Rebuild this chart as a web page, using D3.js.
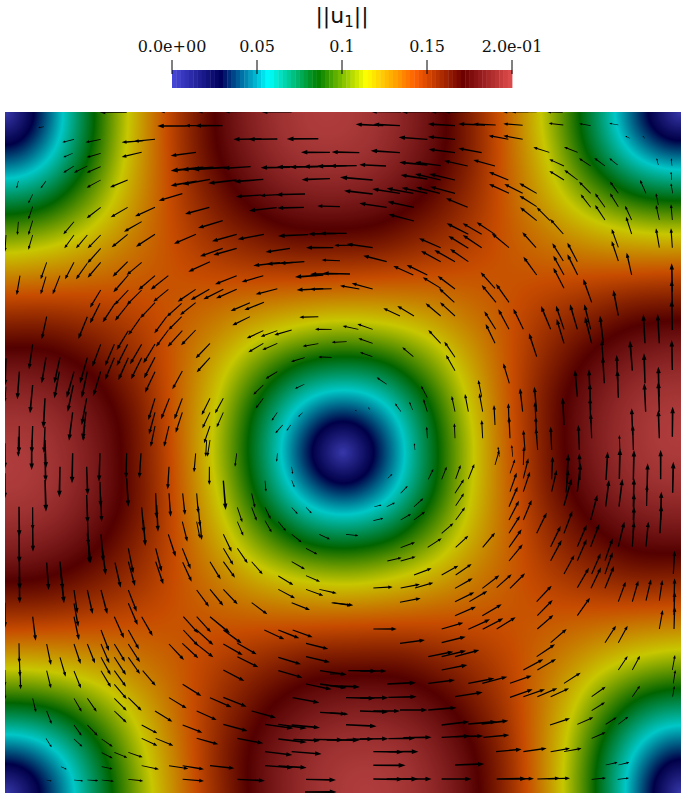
<!DOCTYPE html>
<html><head><meta charset="utf-8">
<script src="https://cdn.jsdelivr.net/npm/d3@7"></script>
<style>html,body{margin:0;padding:0;background:#fff}svg{display:block}</style>
</head><body><div id="chart"></div>
<script>
// Colour legend
const legendTitle = "||u";
const legendTitleSub = "1";
const legendTickValues = [0, 0.05, 0.1, 0.15, 0.2];
const legendTickLabels = ["0.0e+00", "0.05", "0.1", "0.15", "2.0e-01"];
const colorStops = [0, 0.0286, 0.057, 0.0858, 0.1142, 0.1428, 0.1714, 0.2];
const colorValues = ["#4747db", "#00005c", "#00ffff", "#008000", "#ffff00", "#ff6100", "#6b0000", "#e04d4d"];

// ||u1|| read on a 17 x 17 grid across the square
const fieldRows = [
[0,.039,.077,.111,.141,.166,.185,.196,.2,.196,.185,.166,.141,.111,.077,.039,0],
[.039,.054,.083,.114,.141,.165,.182,.193,.196,.193,.182,.165,.141,.114,.083,.054,.039],
[.077,.083,.1,.121,.141,.159,.173,.182,.185,.182,.173,.159,.141,.121,.1,.083,.077],
[.111,.114,.121,.131,.141,.151,.159,.165,.166,.165,.159,.151,.141,.131,.121,.114,.111],
[.141,.141,.141,.141,.141,.141,.141,.141,.141,.141,.141,.141,.141,.141,.141,.141,.141],
[.166,.165,.159,.151,.141,.131,.121,.114,.111,.114,.121,.131,.141,.151,.159,.165,.166],
[.185,.182,.173,.159,.141,.121,.1,.083,.077,.083,.1,.121,.141,.159,.173,.182,.185],
[.196,.193,.182,.165,.141,.114,.083,.054,.039,.054,.083,.114,.141,.165,.182,.193,.196],
[.2,.196,.185,.166,.141,.111,.077,.039,0,.039,.077,.111,.141,.166,.185,.196,.2],
[.196,.193,.182,.165,.141,.114,.083,.054,.039,.054,.083,.114,.141,.165,.182,.193,.196],
[.185,.182,.173,.159,.141,.121,.1,.083,.077,.083,.1,.121,.141,.159,.173,.182,.185],
[.166,.165,.159,.151,.141,.131,.121,.114,.111,.114,.121,.131,.141,.151,.159,.165,.166],
[.141,.141,.141,.141,.141,.141,.141,.141,.141,.141,.141,.141,.141,.141,.141,.141,.141],
[.111,.114,.121,.131,.141,.151,.159,.165,.166,.165,.159,.151,.141,.131,.121,.114,.111],
[.077,.083,.1,.121,.141,.159,.173,.182,.185,.182,.173,.159,.141,.121,.1,.083,.077],
[.039,.054,.083,.114,.141,.165,.182,.193,.196,.193,.182,.165,.141,.114,.083,.054,.039],
[0,.039,.077,.111,.141,.166,.185,.196,.2,.196,.185,.166,.141,.111,.077,.039,0]
];
// The pattern is swirled: how far the features sit from their grid place, as a
// fraction of the square, read at 5 x 5 stations (rows top to bottom).
const swirlX = [
[0,-.016,-.024,-.016,0],
[0,-.01,-.012,-.01,0],
[0,0,0,0,0],
[0,.014,.018,.014,0],
[0,.028,.037,.028,0]
];
const swirlY = [
[0,0,0,0,0],
[.016,.008,0,-.01,-.02],
[.022,.011,0,-.015,-.03],
[.016,.008,0,-.01,-.02],
[0,0,0,0,0]
];

// Glyphs as [tailX, tailY, tipX, tipY], read per quadrant of the square
const arrowsNW = [
[380,36,298,36],[550,34,478,34],[670,34,590,34],[755,34,670,34],[875,35,782,35],
[560,78,472,78],[620,77,555,77],[668,77,585,77],[785,117,700,118],[832,117,745,118],[955,116,860,117],
[990,157,903,157],[132,80,115,83],[222,118,187,127],[302,118,257,127],[430,122,365,127],[465,118,402,124],
[218,160,190,172],[302,160,260,172],[425,157,365,171],[222,198,190,218],[262,198,222,218],[302,200,260,218],
[588,157,512,167],[610,202,512,212],[640,202,545,209],[680,202,575,208],[752,200,670,205],
[870,202,782,203],[915,200,830,201],[955,200,870,201],[1000,198,910,200],[1040,197,950,199],
[55,243,50,265],[138,243,122,265],[302,240,260,263],[383,240,330,262],[590,243,512,257],[630,238,548,253],
[710,240,625,250],[790,238,702,245],[990,236,905,239],[547,281,476,302],[785,285,708,290],[850,283,780,287],[915,282,828,284],
[98,283,85,310],[98,320,85,358],[302,322,260,355],[383,322,332,352],[465,322,405,349],[628,322,555,342],
[830,323,747,332],[912,322,832,324],[1020,320,952,318],[55,365,52,405],[98,362,85,405],[222,365,190,403],
[425,365,372,395],[668,362,594,384],[302,405,263,445],[262,405,228,445],[222,405,193,445],[383,403,335,442],[465,403,408,440],
[588,403,522,431],[710,403,636,424],[792,403,713,418],[925,404,834,408],[1010,401,925,402],[1040,400,960,400],
[98,405,85,449],[18,405,15,455],[302,445,262,490],[668,445,600,469],[710,445,640,465],[870,445,797,456],[1000,443,918,443],[1060,436,1003,436],
[140,487,122,538],[222,487,195,538],[302,487,263,533],[262,490,228,538],[383,485,338,530],[425,487,380,525],[385,525,340,577],
[630,485,565,515],[840,488,760,497],[880,487,800,492],[913,485,840,490],[1020,482,965,480],
[60,527,50,585],[138,530,122,583],[180,527,158,583],[465,527,415,570],[505,527,452,569],[505,568,460,605],[465,608,420,655],[420,655,385,705],
[710,527,645,553],[790,527,725,546],[970,525,885,531],[1015,521,930,523],[1050,522,968,520],
[302,570,270,623],[385,570,343,615],[345,610,308,667],[425,570,380,615],[385,612,345,662],[300,610,270,670],
[587,568,533,605],[628,568,572,600],[670,568,610,598],[710,568,648,595],[832,566,767,583],[970,566,890,570],[995,566,930,568],
[587,608,540,645],[545,610,500,650],[500,650,463,700],[545,650,505,690],[505,690,468,740],[750,608,692,633],[792,607,733,630],[750,650,697,676],
[140,650,125,718],[262,650,235,717],[955,650,898,652],[587,690,543,736],[547,692,503,740],[790,692,740,715],[832,692,782,710],[875,690,823,705],
[995,688,945,688],[385,692,350,750],[465,732,430,790],[630,730,587,775],[832,730,787,750],[790,730,745,757],[955,731,908,739],[1040,725,995,727],
[98,733,87,808],[302,733,277,800],[343,733,315,798],[383,733,350,798],[425,733,390,793],[914,773,873,785],[995,772,955,771],
[630,773,590,817],[465,772,432,835],[425,773,393,838],[385,773,355,840],[343,773,315,840],[262,773,240,850],[180,772,163,850],[138,772,125,850],
[222,815,200,893],[262,815,245,893],[302,815,280,888],[58,815,52,898],[178,815,163,895],[18,775,15,857],[547,813,517,868],[465,815,435,878],
[832,815,797,836],[790,855,760,884],[913,853,885,866],[98,855,90,940],[220,855,203,935],[135,895,130,985],[18,860,15,905],
[260,895,245,975],[258,935,248,1020],[465,895,445,960],[508,895,483,958],[547,895,523,958],[630,895,605,945],[670,895,645,940],[790,895,767,925],
[832,937,815,962],[908,938,895,950],[465,937,447,1003],[670,937,650,982],[630,937,607,985],[547,937,527,998],[218,937,207,1022],
[58,978,57,1060],[98,978,95,1060],[135,980,132,1060],[465,978,452,1040],[507,978,492,1040],[630,978,612,1030],[848,975,826,1000],[872,975,860,992],
[630,1020,622,1070],[255,975,250,1022]
];
const arrowsNE = [
[183,35,90,34],[270,35,183,35],[355,35,270,35],[390,35,312,35],[590,35,510,34],[565,35,484,34],[668,37,622,36],
[130,77,47,73],[180,77,100,73],[345,77,264,72],[435,75,355,72],[467,75,400,72],[548,76,490,71],[670,75,626,70],[752,77,718,71],[835,75,808,70],
[262,118,176,112],[345,118,264,110],[505,118,446,107],[548,118,490,107],[870,115,856,108],[915,115,908,108],
[58,158,-25,156],[180,158,92,152],[345,158,266,148],[425,158,355,145],[628,157,580,142],[713,157,672,141],
[138,198,58,194],[50,197,-30,198],[262,195,178,187],[302,197,225,187],[383,198,312,182],[465,198,400,180],[672,198,628,178],[752,198,717,175],[795,198,763,174],[833,195,808,175],[955,195,950,175],[996,197,994,175],
[98,240,0,232],[262,237,182,225],[302,240,225,222],[345,240,268,222],[505,240,447,216],[672,240,628,213],[713,240,673,210],[752,280,717,245],[995,240,993,215],
[98,282,12,272],[180,280,97,267],[220,280,140,265],[262,280,185,263],[300,280,228,262],[345,280,270,260],[507,280,447,252],[548,280,493,252],[590,280,538,250],[835,280,810,245],[918,280,900,240],[998,280,993,250],[955,315,948,280],
[140,322,58,310],[222,322,143,305],[383,322,318,295],[590,320,538,287],[630,362,590,322],[835,320,810,280],[795,322,765,280],[752,322,722,283],
[590,362,540,322],[875,360,855,317],[958,360,948,315],[997,360,993,313],[222,363,145,343],[795,360,765,315],[670,402,630,357],[875,402,858,350],
[385,403,320,370],[425,403,368,370],[465,403,410,367],[507,443,455,400],[958,443,948,385],[997,443,993,385],[835,442,815,387],[588,443,547,397],
[302,443,237,415],[385,445,325,408],[425,443,368,405],[98,443,20,432],[140,485,70,467],[302,485,243,453],[345,485,283,450],[385,485,330,447],
[670,483,637,430],[712,485,682,428],[835,483,815,423],[875,525,860,458],[590,525,550,470],[220,525,160,498],[262,525,200,495],[465,565,422,517],
[672,525,640,467],[713,525,682,463],[672,565,640,503],[303,565,248,532],[345,567,293,528],[997,575,995,490],[997,620,995,540],
[98,567,35,550],[58,567,0,557],[343,607,297,565],[468,607,425,555],[507,607,468,552],[755,607,730,537],[835,647,820,570],
[222,648,172,618],[180,648,130,625],[302,648,257,610],[345,648,300,607],[632,688,603,618],[672,688,648,617],[712,688,690,613],[752,688,733,613],[755,730,735,650],
[467,688,433,634],[507,688,475,628],[550,688,520,626],[997,690,995,600],[672,730,650,657],[915,730,910,643],[958,730,953,642],
[98,688,52,672],[55,688,8,678],[465,730,437,672],[302,730,265,690],[345,772,313,725],[220,770,187,742],[590,770,567,700],
[790,730,780,647],[793,850,788,770],[790,790,785,720],[997,810,995,720],[877,812,870,722],[98,730,55,715],[97,770,60,757],[345,812,318,765],
[835,893,832,810],[833,845,830,765],[917,935,913,850],[915,850,912,760],[508,850,490,790],[957,890,955,800],[958,935,955,845],[958,1015,955,930],
[140,853,110,832],[262,893,243,857],[262,935,250,897],[712,890,705,810],[752,930,749,850],[750,890,747,808],[755,1015,752,940],[752,970,750,893],[425,890,415,840],[428,935,418,880],
[548,935,540,865],[590,935,583,860],[590,1015,587,950],[588,970,585,905],[593,1050,588,985],[183,935,165,910],[218,930,208,905],[345,935,335,888],[385,935,375,882],
[465,975,462,915],[510,1015,507,950],[507,970,505,910],[672,975,668,893],[997,1010,998,920],[880,1050,878,975],[878,1005,875,925],[262,1015,260,980],[345,1015,343,970],[428,1015,425,960],
[635,1050,632,980],[555,1050,550,990],[718,1050,715,975],[840,1050,838,1005],[478,1070,474,1040],[518,1070,515,1035],[225,1050,223,1030],[90,930,85,922],[50,933,45,930]
];
const arrowsSW = [
[15,70,15,145],[15,-20,15,55],[55,-40,55,20],[95,-30,95,60],[135,-30,138,55],[135,90,138,185],[135,10,137,95],[218,10,216,100],
[260,50,263,135],[180,50,178,142],[300,10,297,95],[300,95,302,170],[302,140,305,215],[380,10,378,85],[380,85,385,170],[423,10,418,85],[507,50,503,118],[587,10,582,67],[620,-30,617,20],[710,10,705,50],
[628,50,628,105],[670,92,677,180],[795,92,798,125],[832,10,830,35],[875,50,878,72],[875,90,883,112],
[260,135,263,220],[263,215,265,285],[265,265,268,340],[467,130,470,205],[470,165,474,245],[507,130,512,200],[548,130,555,195],[590,130,595,190],[595,170,600,230],[600,210,605,270],
[755,130,765,173],[712,172,727,217],[755,172,770,212],[875,172,893,192],[918,172,935,190],[795,172,812,207],
[57,170,58,260],[98,172,98,240],[98,225,99,305],[57,250,58,340],[58,330,59,420],[58,380,59,460],[425,172,432,250],[430,210,436,288],
[547,215,562,275],[590,215,600,265],[712,215,730,257],[795,212,815,247],[835,215,858,243],[875,253,905,277],[958,253,990,268],
[262,250,272,340],[303,253,310,335],[307,295,317,375],[505,253,527,320],[670,253,695,305],[712,295,743,340],[918,295,952,313],
[467,295,485,365],[547,295,572,357],[385,295,400,370],[385,335,405,408],[670,295,700,345],[670,335,705,383],[630,335,662,388],[755,335,788,373],
[875,335,915,358],[140,338,146,420],[180,335,188,420],[183,370,192,460],[345,338,362,413],[548,337,575,395],[467,335,490,403],[835,378,880,405],[918,377,960,395],
[222,420,232,490],[222,500,237,570],[222,460,235,530],[262,420,278,492],[303,420,322,492],[385,420,410,485],[590,420,627,470],[630,418,670,467],[670,418,713,463],
[835,418,885,445],[918,418,970,437],[958,418,1010,430],[875,458,930,480],[755,458,802,493],[1000,458,1060,466],[385,460,413,525],[15,458,15,533],[98,500,107,572],[425,500,458,558],
[550,500,595,550],[590,500,633,547],[630,500,690,550],[670,540,725,580],[303,540,327,603],[343,500,372,565],[385,540,417,598],[793,540,853,568],[835,540,898,565],[878,540,938,562],
[550,540,595,588],[590,540,640,585],[587,580,640,622],[507,582,552,630],[547,580,595,625],[670,582,728,615],[712,580,770,613],[918,580,985,597],
[57,580,58,640],[58,620,60,680],[140,582,153,645],[222,582,242,642],[262,582,285,640],[303,582,328,640],[343,582,375,635],[385,582,420,637],
[180,622,197,680],[303,622,332,675],[343,622,378,675],[385,622,420,672],[712,620,775,652],[835,622,903,643],[918,620,990,637],[60,660,62,718],
[140,662,153,715],[222,663,243,715],[303,662,333,712],[343,662,378,710],[428,662,467,707],[670,660,733,693],[835,662,908,683],[960,662,1040,674],[15,660,15,708],[15,700,15,748],
[918,702,995,718],[960,702,1040,714],[548,703,604,738],[343,703,380,747],[385,743,425,782],[878,743,958,758],[507,743,560,775],[630,743,695,772],[670,742,740,770],
[98,745,108,787],[222,745,245,785],[262,745,290,785],[343,745,380,782],[755,783,828,803],[590,783,650,810],[465,783,517,815],[140,783,155,822],[343,783,380,818],[960,787,1040,792],
[222,825,245,857],[262,825,293,857],[425,825,472,850],[548,825,607,848],[670,823,743,843],[795,823,880,835],[835,823,920,835],[875,825,960,833],
[138,865,155,892],[222,867,247,890],[305,867,338,890],[425,865,472,887],[467,865,520,887],[590,865,655,883],[712,865,790,880],[835,867,920,877],[880,868,960,872],[940,868,1030,870],
[305,908,338,925],[343,907,382,923],[385,907,428,922],[795,905,877,915],[875,905,965,912],[425,947,477,958],[507,947,565,956],[548,947,612,958],[630,947,703,955],[795,947,880,953],[835,948,920,953],
[183,950,200,958],[305,950,338,957],[222,990,250,993],[262,990,295,992],[305,990,342,994],[385,988,430,993],[548,988,612,993],[712,988,795,992],[918,988,1008,990],[140,990,155,993],[915,1026,1010,1026]
];
const arrowsSE = [
[25,662,110,663],[60,663,140,663],[-30,672,15,671],[-30,707,60,711],[18,743,105,745],[60,744,145,743],[145,742,230,740],
[60,783,145,786],[100,783,180,783],[180,780,262,780],[265,780,350,773],[-30,788,25,793],[18,824,110,829],
[-40,870,60,870],[20,868,100,867],[60,867,145,866],[145,866,225,865],[190,863,275,862],[100,905,190,906],[145,905,235,905],[100,946,197,946],
[100,987,190,988],[140,987,235,987],[190,987,275,987],[305,987,395,987],[345,945,433,942],[305,862,390,858],[345,860,430,858],[430,862,508,855],
[305,825,388,815],[385,822,470,815],[425,822,505,812],[470,987,560,986],[510,986,582,986],[592,987,660,985],[625,986,690,985],[755,988,798,984],[833,988,867,984],
[468,905,545,898],[550,905,620,895],[632,905,690,895],[672,905,725,895],[797,945,833,937],[835,945,868,937],[755,865,797,847],[712,823,760,802],[630,825,690,805],[797,823,830,802],[835,823,865,800],
[755,782,795,757],[755,740,797,710],[877,740,900,707],[345,740,428,727],[265,700,345,690],[142,702,228,698],[385,700,463,685],[427,700,502,680],[510,700,575,677],
[510,742,578,718],[550,740,615,718],[592,740,652,715],[632,740,687,715],[672,700,722,668],[305,660,382,645],[265,620,340,605],[305,620,378,602],[345,620,418,600],
[550,660,610,628],[592,660,648,627],[590,620,645,583],[632,578,680,537],[180,580,255,570],[305,578,377,560],[100,537,170,537],
[305,537,370,518],[385,538,450,508],[428,538,490,505],[470,537,527,502],[345,497,408,470],[427,497,485,463],[592,537,640,495],
[835,660,863,618],[877,660,900,617],[795,578,828,527],[835,578,863,527],[997,660,1005,615],[1000,700,1006,660],[998,740,1003,708],
[712,497,750,443],[592,497,638,450],[590,455,635,407],[345,455,403,427],[388,455,442,423],[180,457,242,445],[-25,458,35,467],
[100,414,158,411],[182,414,240,403],[225,414,280,398],[345,415,398,385],[427,415,478,376],[470,413,515,373],[510,415,555,370],
[712,413,747,353],[753,415,783,352],[795,415,822,348],[222,375,275,355],[305,375,355,347],[347,375,395,342],[142,333,185,323],[182,333,227,320],
[182,293,225,277],[263,292,305,265],[347,292,385,257],[428,292,465,248],[507,333,548,283],[507,292,545,238],[507,250,540,197],[507,210,537,152],[507,170,533,110],
[510,125,530,68],[510,70,525,28],[550,125,570,65],[550,210,575,150],[590,250,620,188],[632,290,662,228],[632,332,665,270],[672,372,703,315],
[712,290,740,225],[712,332,740,268],[752,290,778,222],[755,372,782,310],[795,332,818,265],[795,372,818,307],
[835,290,853,215],[877,290,882,215],[918,290,925,215],[880,250,882,170],[880,210,882,130],[880,170,882,85],[880,90,882,0],
[835,455,857,395],[877,455,895,392],[918,452,933,388],[958,452,967,390],[1002,455,1004,385],[1002,495,1004,425],[1002,537,1004,470],[1000,372,1004,302],[958,537,968,480],
[920,168,921,105],[921,125,923,40],[962,88,962,0],[998,128,1000,35],[797,170,807,90],[837,170,847,87],[752,210,772,135],[798,90,803,5],[838,87,840,-5],[960,250,964,165],[962,210,964,125],
[635,125,650,60],[635,88,638,20],[672,167,695,85],[678,128,685,60],[680,100,685,12],[712,125,722,40],[720,90,718,10],[672,250,697,183],
[550,85,565,25],[550,45,552,-10],[465,45,478,0],[347,87,362,45],[385,87,403,42],[305,88,320,50],[265,88,280,57],
[345,130,372,88],[347,167,372,130],[347,210,375,172],[305,250,340,220],[182,130,203,108],[222,170,250,145],[182,210,213,192],[222,210,255,185],
[143,85,157,72],[100,212,130,205],[103,170,125,165],[140,170,165,158],[18,253,55,257]
];
const quadrants = [
  {rows: arrowsNW, ox: -15, oy: -36},
  {rows: arrowsNE, ox: 1005, oy: -36},
  {rows: arrowsSW, ox: -15, oy: 1014},
  {rows: arrowsSE, ox: 1005, oy: 1014}
];

const W = 681, H = 795;
const plot = {l: 5, r: 681, t: 112, b: 793};
const x = d3.scaleLinear().domain([0, 2028]).range([plot.l, plot.r]);
const y = d3.scaleLinear().domain([0, 2043]).range([plot.t, plot.b]);
const color = d3.scaleLinear().domain(colorStops).range(colorValues).interpolate(d3.interpolateRgb).clamp(true);
const SHADE = 0.78;

const svg = d3.select("#chart").append("svg").attr("width", W).attr("height", H)
  .attr("viewBox", `0 0 ${W} ${H}`);

// Field: bicubic through squared grid values (keeps the cone-shaped minima crisp)
const n = fieldRows.length - 1;
const sq = fieldRows.map(r => r.map(v => v * v));
const refl = i => i < 0 ? -i : (i > n ? 2 * n - i : i);
function cr(p0, p1, p2, p3, t) {
  return 0.5 * (2 * p1 + (p2 - p0) * t + (2 * p0 - 5 * p1 + 4 * p2 - p3) * t * t + (3 * p1 - p0 - 3 * p2 + p3) * t * t * t);
}
function sample(u, v) {
  const fx = Math.min(Math.max(0, u) * n, n - 1e-6), fy = Math.min(Math.max(0, v) * n, n - 1e-6);
  const i = Math.floor(fx), j = Math.floor(fy), tx = fx - i, ty = fy - j;
  const row = k => { const R = sq[refl(j + k)];
    return cr(R[refl(i - 1)], R[refl(i)], R[refl(i + 1)], R[refl(i + 2)], tx); };
  return Math.sqrt(Math.max(0, cr(row(-1), row(0), row(1), row(2), ty)));
}
function station(T, u, v) {
  const m = T.length - 1, fx = Math.min(u * m, m - 1e-6), fy = Math.min(v * m, m - 1e-6);
  const i = Math.floor(fx), j = Math.floor(fy), a = fx - i, b = fy - j;
  return (T[j][i] * (1 - a) + T[j][i + 1] * a) * (1 - b) + (T[j + 1][i] * (1 - a) + T[j + 1][i + 1] * a) * b;
}
const pw = plot.r - plot.l, ph = plot.b - plot.t;
const cv = document.createElement("canvas"); cv.width = pw; cv.height = ph;
const ctx = cv.getContext("2d");
const img = ctx.createImageData(pw, ph);
for (let py = 0; py < ph; py++) for (let px = 0; px < pw; px++) {
  const u = (px + .5) / pw, v = (py + .5) / ph;
  const c = d3.rgb(color(sample(u - station(swirlX, u, v), v - station(swirlY, u, v))));
  const k = (py * pw + px) * 4;
  img.data[k] = c.r * SHADE; img.data[k + 1] = c.g * SHADE; img.data[k + 2] = c.b * SHADE; img.data[k + 3] = 255;
}
ctx.putImageData(img, 0, 0);
svg.append("image").attr("x", plot.l).attr("y", plot.t).attr("width", pw).attr("height", ph)
  .attr("href", cv.toDataURL());

// Glyphs
svg.append("clipPath").attr("id", "plotClip").append("rect")
  .attr("x", plot.l).attr("y", plot.t).attr("width", pw).attr("height", ph);
const glyphs = quadrants.flatMap(q => q.rows.map(r => ({
  x0: x(r[0] + q.ox), y0: y(r[1] + q.oy), x1: x(r[2] + q.ox), y1: y(r[3] + q.oy)
})));
function glyphPath(g) {
  const dx = g.x1 - g.x0, dy = g.y1 - g.y0, L = Math.hypot(dx, dy) || 1;
  const ux = dx / L, uy = dy / L, nx = -uy, ny = ux;
  const sw = 0.024 * L + 0.15, hw = 0.06 * L + 0.5, hl = 0.2 * L + 0.5;
  const bx = g.x1 - ux * hl, by = g.y1 - uy * hl;
  const p = d3.path();
  p.moveTo(g.x0 + nx * sw * .8, g.y0 + ny * sw * .8);
  p.lineTo(bx + nx * sw, by + ny * sw);
  p.lineTo(bx + nx * hw, by + ny * hw);
  p.lineTo(g.x1, g.y1);
  p.lineTo(bx - nx * hw, by - ny * hw);
  p.lineTo(bx - nx * sw, by - ny * sw);
  p.lineTo(g.x0 - nx * sw * .8, g.y0 - ny * sw * .8);
  p.closePath();
  return p.toString();
}
svg.append("g").attr("clip-path", "url(#plotClip)").selectAll("path").data(glyphs).join("path")
  .attr("d", glyphPath).attr("fill", "#000");

// Colour bar
const barScale = d3.scaleLinear().domain([0, 0.2]).range([172, 512]);
const STEPS = 80;
const steps = d3.range(STEPS);
const bar = svg.append("g");
bar.selectAll("rect").data(steps).join("rect")
  .attr("x", i => barScale(0.2 * i / STEPS))
  .attr("y", 70).attr("height", 18)
  .attr("width", i => barScale(0.2 * (i + 1) / STEPS) - barScale(0.2 * i / STEPS) + 0.4)
  .attr("fill", i => color(0.2 * (i + .5) / STEPS));
const axis = d3.axisTop(barScale).tickValues(legendTickValues)
  .tickFormat((d, i) => legendTickLabels[i]).tickSize(14).tickPadding(8).offset(0);
const ag = svg.append("g").attr("transform", "translate(0,74)").call(axis);
ag.select(".domain").remove();
ag.selectAll(".tick line").attr("stroke", "#000").attr("stroke-width", 1);
ag.selectAll(".tick text").attr("dy", 0).attr("font-family", "'DejaVu Serif'").attr("font-size", 16).attr("fill", "#111");

const title = svg.append("text").attr("x", 342).attr("y", 23).attr("text-anchor", "middle")
  .attr("font-family", "'DejaVu Sans'").attr("font-size", 22).attr("fill", "#111");
title.append("tspan").text(legendTitle);
title.append("tspan").attr("dy", 4).attr("font-size", 15).text(legendTitleSub);
title.append("tspan").attr("dy", -4).text("||");
</script></body></html>
